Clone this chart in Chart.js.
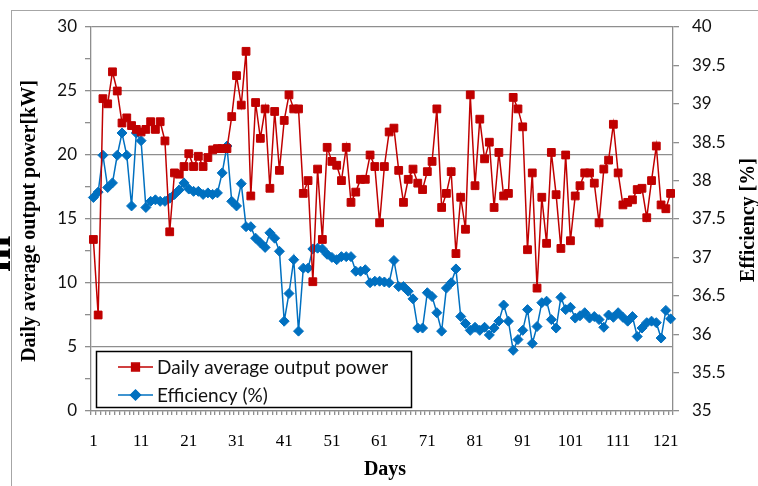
<!DOCTYPE html>
<html>
<head>
<meta charset="utf-8">
<script src="https://cdn.jsdelivr.net/npm/chart.js@4.4.1/dist/chart.umd.min.js"></script>
<style>
  html, body { margin: 0; padding: 0; background: #fff; }
  #wrap { position: relative; width: 758px; height: 486px; overflow: hidden; }
  #frame { position: absolute; left: 11px; top: 10px; width: 900px; height: 600px; border: 1px solid #a6a6a6; }
  canvas { position: absolute; left: 0; top: 0; }
</style>
</head>
<body>
<div id="wrap">
  <div id="frame"></div>
  <canvas id="chart" width="758" height="486"></canvas>
</div>
<script>
// day numbers on the category axis
const days = [
  1, 2, 3, 4, 5, 6, 7, 8, 9, 10, 11, 12, 13, 14, 15, 16, 17, 18, 19, 20,
  21, 22, 23, 24, 25, 26, 27, 28, 29, 30, 31, 32, 33, 34, 35, 36, 37, 38, 39, 40,
  41, 42, 43, 44, 45, 46, 47, 48, 49, 50, 51, 52, 53, 54, 55, 56, 57, 58, 59, 60,
  61, 62, 63, 64, 65, 66, 67, 68, 69, 70, 71, 72, 73, 74, 75, 76, 77, 78, 79, 80,
  81, 82, 83, 84, 85, 86, 87, 88, 89, 90, 91, 92, 93, 94, 95, 96, 97, 98, 99, 100,
  101, 102, 103, 104, 105, 106, 107, 108, 109, 110, 111, 112, 113, 114, 115, 116, 117, 118, 119, 120,
  121, 122
]

// daily average output power, kW (left axis)
const power = [
  13.4, 7.5, 24.4, 24.0, 26.5, 25.0, 22.5, 22.9, 22.3, 22.0,
  21.8, 22.0, 22.6, 22.0, 22.6, 21.1, 14.0, 18.6, 18.5, 19.1,
  20.1, 19.1, 19.9, 19.1, 19.8, 20.4, 20.5, 20.5, 20.5, 23.0,
  26.2, 23.9, 28.1, 16.8, 24.1, 21.3, 23.6, 17.4, 23.4, 18.8,
  22.7, 24.7, 23.6, 23.6, 17.0, 18.0, 10.1, 18.9, 13.4, 20.6,
  19.5, 19.2, 18.0, 20.6, 16.3, 17.1, 18.1, 18.1, 20.0, 19.1,
  14.7, 19.1, 21.8, 22.1, 18.8, 16.3, 18.1, 18.9, 17.8, 17.3,
  18.7, 19.5, 23.6, 15.9, 17.0, 18.7, 12.3, 16.7, 14.2, 24.7,
  17.6, 22.8, 19.7, 21.0, 15.9, 20.2, 16.8, 17.0, 24.5, 23.6,
  22.2, 12.6, 18.6, 9.6, 16.7, 13.1, 20.2, 16.9, 12.7, 20.0,
  13.3, 16.8, 17.6, 18.6, 18.6, 17.8, 14.7, 18.9, 19.6, 22.4,
  18.6, 16.1, 16.3, 16.5, 17.3, 17.4, 15.1, 18.0, 20.7, 16.1,
  15.8, 17.0
]

// efficiency, % (right axis)
const efficiency = [
  37.78, 37.85, 38.33, 37.91, 37.97, 38.33, 38.62, 38.33, 37.67, 38.62,
  38.52, 37.65, 37.73, 37.75, 37.73, 37.73, 37.77, 37.82, 37.88, 37.97,
  37.89, 37.86, 37.86, 37.82, 37.84, 37.82, 37.84, 38.10, 38.45, 37.73,
  37.67, 37.96, 37.40, 37.40, 37.25, 37.19, 37.13, 37.32, 37.25, 37.08,
  36.17, 36.53, 36.97, 36.04, 36.86, 36.86, 37.11, 37.12, 37.11, 37.04,
  37.00, 36.97, 37.01, 37.01, 37.01, 36.82, 36.82, 36.84, 36.67, 36.69,
  36.69, 36.68, 36.67, 36.96, 36.62, 36.62, 36.56, 36.46, 36.08, 36.08,
  36.54, 36.49, 36.28, 36.04, 36.60, 36.67, 36.85, 36.23, 36.14, 36.05,
  36.09, 36.05, 36.09, 35.99, 36.08, 36.17, 36.38, 36.17, 35.79, 35.93,
  36.05, 36.32, 35.88, 36.10, 36.41, 36.43, 36.19, 36.08, 36.48, 36.32,
  36.35, 36.21, 36.24, 36.28, 36.21, 36.23, 36.19, 36.09, 36.25, 36.22,
  36.28, 36.22, 36.17, 36.23, 35.97, 36.08, 36.15, 36.17, 36.15, 35.95,
  36.31, 36.20
]

const seriesNames = ['Daily average output power', 'Efficiency (%)']
const RED = '#C00000'
const BLUE = '#0070C0'
const GRID = '#8e8e8e'

// legend box inside the plot, bottom left, plus titles and the frame bits
const extras = {
    id: 'extras',
    afterDraw(chart) {
        const ctx = chart.ctx
        const ds = chart.data.datasets

        ctx.save()
        // legend
        ctx.fillStyle = '#fff'
        ctx.fillRect(96.5, 351.5, 315, 56)
        ctx.strokeStyle = '#000'
        ctx.lineWidth = 1.5
        ctx.strokeRect(96.5, 351.5, 315, 56)

        const rows = [367, 395]
        ds.forEach((d, i) => {
            const y = rows[i]
            ctx.strokeStyle = d.borderColor
            ctx.lineWidth = 1.5
            ctx.beginPath()
            ctx.moveTo(118, y)
            ctx.lineTo(153, y)
            ctx.stroke()
            Chart.helpers.drawPoint(ctx, {
                pointStyle: d.pointStyle,
                radius: d.pointRadius,
                borderWidth: 1,
                rotation: 0,
            }, 135.5, y)
            ctx.fillStyle = d.backgroundColor
            ctx.fill()
            ctx.fillStyle = '#111'
            ctx.font = '19px Lato'
            ctx.textAlign = 'left'
            ctx.textBaseline = 'middle'
            ctx.fillText(d.label, 157, y + 1)
        })

        // axis titles
        ctx.fillStyle = '#000'
        ctx.font = 'bold 20px "Liberation Serif"'
        ctx.textAlign = 'center'
        ctx.textBaseline = 'middle'
        ctx.fillText('Days', 385, 470)

        ctx.save()
        ctx.translate(30, 221)
        ctx.rotate(-Math.PI / 2)
        ctx.fillText('Daily average output power[kW]', 0, 0)
        ctx.restore()

        ctx.save()
        ctx.translate(749, 220)
        ctx.rotate(-Math.PI / 2)
        ctx.fillText('Efficiency [%]', 0, 0)
        ctx.restore()

        // clipped glyph at the far left edge of the source image
        ctx.save()
        ctx.translate(10, 254)
        ctx.rotate(-Math.PI / 2)
        ctx.font = 'bold 44px "Liberation Serif"'
        ctx.textBaseline = 'alphabetic'
        ctx.fillText('m', 0, 0)
        ctx.restore()

        ctx.restore()
    },
}

const canvas = document.getElementById('chart')

new Chart(canvas, {
    type: 'line',
    data: {
        labels: days,
        datasets: [
            {
                label: seriesNames[0],
                data: power,
                yAxisID: 'y',
                borderColor: RED,
                backgroundColor: RED,
                borderWidth: 1.5,
                pointStyle: 'rect',
                pointRadius: 5.5,
                pointBorderWidth: 1,
                tension: 0,
            },
            {
                label: seriesNames[1],
                data: efficiency,
                yAxisID: 'y2',
                borderColor: BLUE,
                backgroundColor: BLUE,
                borderWidth: 1.5,
                pointStyle: 'rectRot',
                pointRadius: 5,
                pointBorderWidth: 1,
                tension: 0,
            },
        ],
    },
    options: {
        responsive: false,
        animation: false,
        devicePixelRatio: 1,
        layout: {
            padding: { top: 27, left: 0, right: 0, bottom: 0 },
            autoPadding: false,
        },
        plugins: {
            legend: { display: false },
            tooltip: { enabled: false },
        },
        scales: {
            x: {
                type: 'category',
                offset: true,
                afterFit(scale) { scale.height = 75 },
                grid: {
                    display: true,
                    drawOnChartArea: false,
                    offset: true,
                    color: GRID,
                    tickLength: 4,
                    lineWidth: 1.3,
                },
                border: { color: GRID, width: 1.3 },
                ticks: {
                    autoSkip: false,
                    maxRotation: 0,
                    minRotation: 0,
                    padding: 16,
                    color: '#000',
                    font: { family: 'Liberation Serif', size: 17 },
                    callback(value, index) {
                        return index % 10 === 0 ? this.getLabelForValue(value) : ''
                    },
                },
            },
            y: {
                position: 'left',
                min: 0,
                max: 30,
                afterFit(scale) { scale.width = 91 },
                grid: {
                    color(ctx) {
                        return ctx.tick && ctx.tick.value % 5 === 0 ? GRID : 'rgba(0,0,0,0)'
                    },
                    tickColor: GRID,
                    tickLength: 6,
                    lineWidth: 1.3,
                },
                border: { color: GRID, width: 1.3 },
                ticks: {
                    stepSize: 2.5,
                    padding: 8,
                    color: '#111',
                    font: { family: 'Lato', size: 17 },
                    callback(v) { return v % 5 === 0 ? String(v) : '' },
                },
            },
            y2: {
                position: 'right',
                min: 35,
                max: 40,
                afterFit(scale) { scale.width = 85 },
                grid: {
                    drawOnChartArea: false,
                    color: GRID,
                    tickLength: 6,
                    lineWidth: 1.3,
                },
                border: { color: GRID, width: 1.3 },
                ticks: {
                    stepSize: 0.5,
                    padding: 13,
                    color: '#111',
                    font: { family: 'Lato', size: 17 },
                    callback(v) { return Number.isInteger(v) ? String(v) : v.toFixed(1) },
                },
            },
        },
    },
    plugins: [extras],
})
</script>
</body>
</html>
